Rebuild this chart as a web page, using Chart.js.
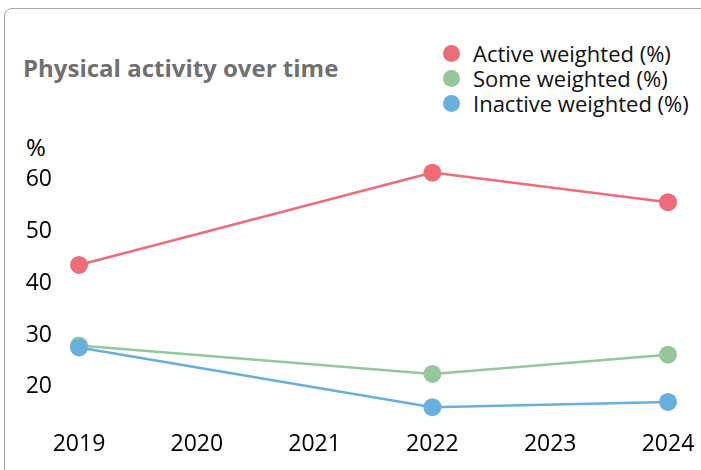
<!DOCTYPE html>
<html>
<head>
<meta charset="utf-8">
<script src="https://cdn.jsdelivr.net/npm/chart.js@4"></script>
<style>
    html, body { margin: 0; padding: 0; background: #fff; overflow: hidden; }
    #wrap { position: relative; width: 701px; height: 470px; font-family: "Open Sans", sans-serif; }
    #frame {
        position: absolute; left: 4px; top: 8px; width: 760px; height: 560px;
        border: 1px solid #a3a3aa; border-radius: 8px;
    }
    #title {
        position: absolute; left: 23px; top: 56px; line-height: 24px;
        font-size: 24px; font-weight: bold; color: #707070; white-space: nowrap;
    }
    #legend { position: absolute; left: 443px; top: 41px; }
    .item { display: flex; align-items: center; height: 25px; line-height: 25px; font-size: 22px; color: #111; white-space: nowrap; }
    .dot { width: 17px; height: 17px; border-radius: 50%; margin-right: 13px; }
    #unit { position: absolute; left: 26px; top: 130px; font-size: 24px; color: #000; }
    canvas { position: absolute; left: 0; top: 0; }
</style>
</head>
<body>
<div id="wrap">
    <div id="frame"></div>
    <div id="title">Physical activity over time</div>
    <div id="legend"></div>
    <div id="unit">%</div>
    <canvas id="chart" width="701" height="470"></canvas>
</div>
<script>
// Data
const years = ['2019', '2020', '2021', '2022', '2023', '2024'];
const active = [43.5, null, null, 61.3, null, 55.6];
const some = [28.0, null, null, 22.5, null, 26.2];
const inactive = [27.6, null, null, 16.1, null, 17.1];
const yTicks = [20, 30, 40, 50, 60];

const seriesNames = ['Active weighted (%)', 'Some weighted (%)', 'Inactive weighted (%)'];
const seriesColors = ['#ee6b78', '#94c89b', '#68afde'];
const seriesData = [active, some, inactive];

// HTML legend built from the series lists
const legend = document.getElementById('legend');
seriesNames.forEach((name, i) => {
    const row = document.createElement('div');
    row.className = 'item';
    const dot = document.createElement('span');
    dot.className = 'dot';
    dot.style.background = seriesColors[i];
    row.appendChild(dot);
    row.appendChild(document.createTextNode(name));
    legend.appendChild(row);
});

const font = { family: '"Open Sans", sans-serif', size: 23 };

new Chart(document.getElementById('chart').getContext('2d'), {
    type: 'line',
    data: {
        labels: years,
        datasets: seriesData.map((values, i) => ({
            label: seriesNames[i],
            data: values,
            spanGaps: true,
            borderColor: seriesColors[i],
            backgroundColor: seriesColors[i],
            borderWidth: 2.5,
            pointRadius: 9,
            pointBorderWidth: 0,
            pointHoverRadius: 9,
            tension: 0,
            clip: false
        })).reverse()
    },
    options: {
        responsive: false,
        animation: false,
        layout: { padding: { top: 169, right: 33, bottom: 10, left: 0 } },
        plugins: {
            legend: { display: false },
            tooltip: { enabled: false }
        },
        scales: {
            x: {
                offset: false,
                grid: { display: false, drawTicks: false },
                border: { display: false },
                ticks: { color: '#000', font: font, padding: 2, maxRotation: 0 }
            },
            y: {
                min: 12,
                max: 62,
                grid: { display: false, drawTicks: false },
                border: { display: false },
                ticks: { color: '#000', font: font, padding: 27 },
                afterBuildTicks: (scale) => {
                    scale.ticks = yTicks.map(v => ({ value: v }));
                },
                afterFit: (scale) => {
                    scale.width = 79;
                }
            }
        }
    }
});
</script>
</body>
</html>
